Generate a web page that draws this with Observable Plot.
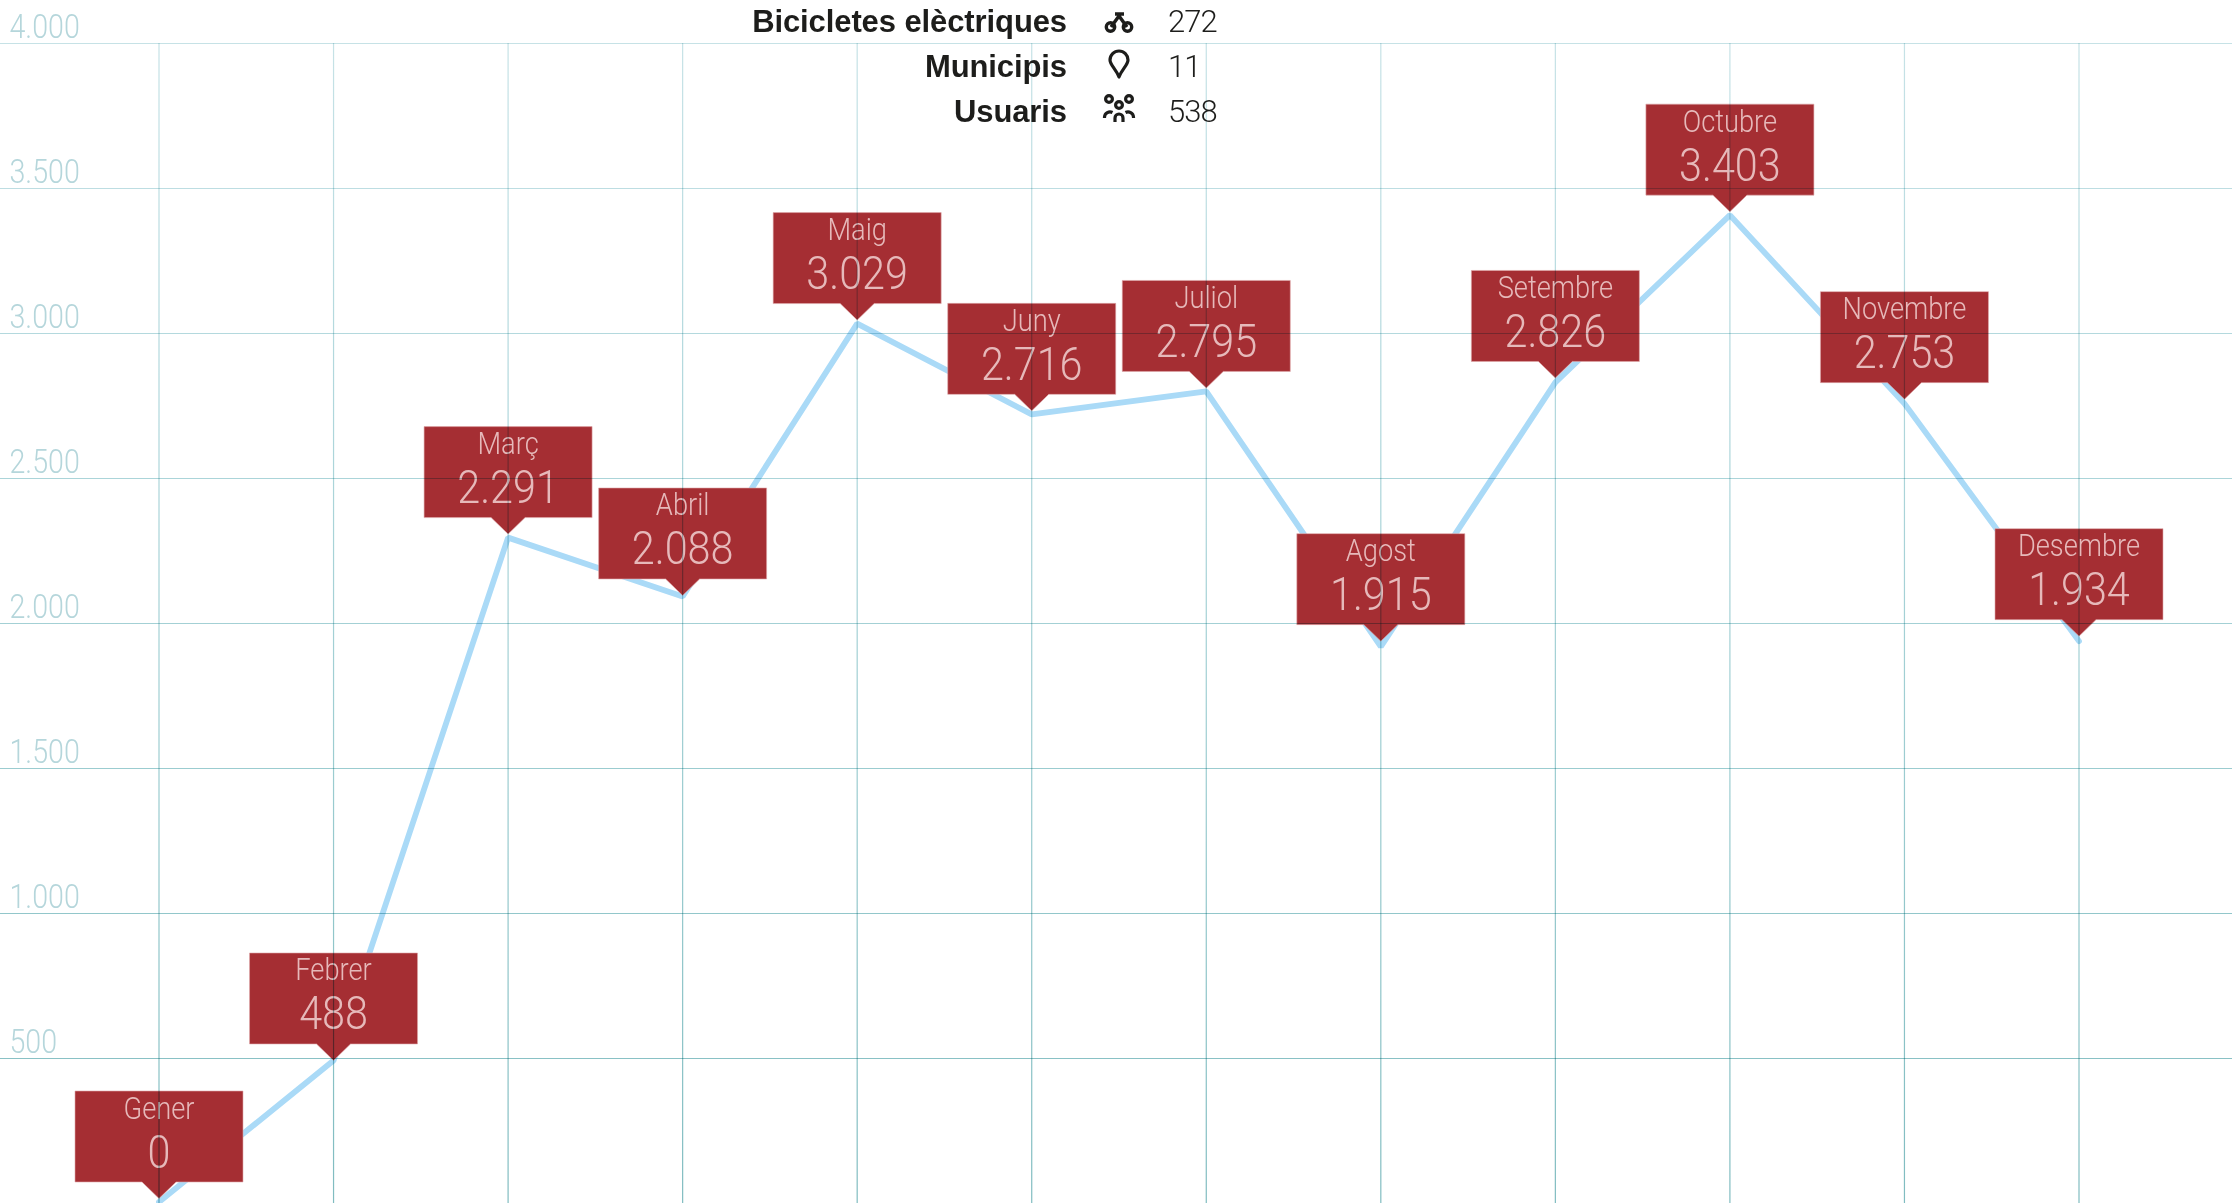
<!DOCTYPE html>
<html lang="ca">
<head>
<meta charset="utf-8">
<title>Bicicletes elèctriques</title>
<script src="https://cdn.jsdelivr.net/npm/d3@7"></script>
<script src="https://cdn.jsdelivr.net/npm/@observablehq/plot@0.6"></script>
<style>
  html, body { margin: 0; padding: 0; background: #fff; overflow: hidden; }
  #wrap { position: relative; width: 2232px; height: 1203px; }
  #wrap svg.chart { display: block; }
  .row { position: absolute; left: 0; height: 45px; width: 1240px; color: #1d1d1b; }
  .row span { position: absolute; bottom: 6px; line-height: 1; font-size: 31px; white-space: nowrap; }
  .lab { right: 173px; font-family: "Liberation Sans", sans-serif; font-weight: 700; letter-spacing: -0.1px; }
  .val { left: 1168px; font-family: Roboto, sans-serif; font-weight: 300; letter-spacing: -1px; }
  .row svg { position: absolute; left: 1100px; top: 0; overflow: visible; }
</style>
</head>
<body>
<div id="wrap"></div>
<script>
const months = ["Gener","Febrer","Març","Abril","Maig","Juny","Juliol","Agost","Setembre","Octubre","Novembre","Desembre"];
const values = [0, 488, 2291, 2088, 3029, 2716, 2795, 1915, 2826, 3403, 2753, 1934];
const yTicks = [500, 1000, 1500, 2000, 2500, 3000, 3500, 4000];
const legendLabels = ["Bicicletes elèctriques", "Municipis", "Usuaris"];
const legendValues = [272, 11, 538];

const catalan = d3.formatLocale({decimal: ",", thousands: ".", grouping: [3], currency: ["", "€"]}).format(",");
const rows = months.map((month, i) => ({month, value: values[i]}));

// Callout: rectangle with a small pointer whose tip sits just above the data point.
const calloutSymbol = (shift) => ({
  draw(c) {
    const w = 84, top = -112.5 + shift, bottom = -21.5 + shift, tip = -5 + shift, t = 17;
    c.moveTo(-w, top); c.lineTo(w, top); c.lineTo(w, bottom);
    c.lineTo(t, bottom); c.lineTo(0, tip); c.lineTo(-t, bottom);
    c.lineTo(-w, bottom); c.closePath();
  }
});
const calloutMarks = (data, shift) => [
  Plot.dot(data, {
    x: "month", y: "value", symbol: calloutSymbol(shift), fill: "#a52e33",
    stroke: "#dfa9ab", strokeWidth: 0.6
  }),
  Plot.text(data, {
    x: "month", y: "value", text: "month", lineAnchor: "bottom", dy: -85 + shift,
    fontSize: 31, fontWeight: 300, fontFamily: "Roboto, sans-serif", fill: "#e6b9ba", ariaLabel: "month"
  }),
  Plot.text(data, {
    x: "month", y: "value", text: d => catalan(d.value), lineAnchor: "bottom", dy: -36 + shift,
    fontSize: 47, fontWeight: 300, fontFamily: "Roboto, sans-serif", fill: "#e6b9ba", ariaLabel: "value"
  })
];
// A few callouts sit slightly nearer to or further from their points in the reference.
const nudges = {Febrer: 3.5, Abril: 2.5, Agost: -2, Desembre: -1.5, Novembre: -1, Setembre: -1};

const chart = Plot.plot({
  width: 2232, height: 1203,
  marginTop: 0, marginRight: 0, marginBottom: 0, marginLeft: 0,
  className: "chart",
  style: {background: "white"},
  x: {type: "point", domain: months, range: [158.5, 2078.5], padding: 0, round: false, axis: null},
  y: {domain: [0, 4000], range: [1203, 43], axis: null},
  marks: [
    Plot.text(yTicks, {
      y: d => d, text: catalan, frameAnchor: "left", textAnchor: "start", lineAnchor: "bottom",
      dx: 9, dy: -6, fontSize: 32.5, fontWeight: 300, fontFamily: "Roboto, sans-serif", fill: "#b5d6db", ariaLabel: "tick"
    }),
    Plot.line(rows, {
      x: "month", y: "value", dy: -1.5, stroke: "#aadaf7", strokeWidth: 5.8,
      strokeLinejoin: "miter", strokeLinecap: "round"
    }),
    calloutMarks(rows.filter(d => !(d.month in nudges)), 0),
    Object.entries(nudges).map(([m, s]) => calloutMarks(rows.filter(d => d.month === m), s)),
    Plot.ruleY(yTicks, {y: d => d, stroke: "url(#gridFade)", strokeWidth: 1.2, mixBlendMode: "multiply"}),
    Plot.ruleX(months, {x: d => d, y1: 0, y2: 4000, stroke: "url(#gridFade)", strokeWidth: 1.2, mixBlendMode: "multiply"})
  ]
});

// Grid fades towards the top of the chart.
const defs = d3.select(chart).insert("defs", ":first-child");
const grad = defs.append("linearGradient").attr("id", "gridFade")
  .attr("gradientUnits", "userSpaceOnUse").attr("x1", 0).attr("x2", 0).attr("y1", 43).attr("y2", 1203);
[[0, "#c6e2e6"], [0.3, "#b0d7dc"], [0.6, "#9dcdd1"], [1, "#80bcc0"]].forEach(([o, c]) =>
  grad.append("stop").attr("offset", o).attr("stop-color", c));

// Condense the light face to match the reference's narrow type.
const narrow = {tick: 0.86, month: 0.88, value: 0.95};
d3.select(chart).selectAll('g[aria-label] text').each(function () {
  const k = narrow[this.parentNode.getAttribute("aria-label")] ?? 0.88;
  this.setAttribute("transform", (this.getAttribute("transform") || "") + ` scale(${k},1)`);
});

const wrap = document.getElementById("wrap");
wrap.appendChild(chart);

const icons = [
  `<g fill="none" stroke="#1d1d1b" stroke-width="3.4"><circle cx="10.5" cy="29" r="4.2"/><circle cx="27.500" cy="29" r="4.200"/><path d="M11 29l8-11 8 11M15 16h9"/></g>`,
  `<path d="M19 34C16 26 10 22 10 17a9 9 0 0 1 18 0c0 5-6 9-9 17z" fill="none" stroke="#1d1d1b" stroke-width="3.200" stroke-linejoin="round"/>`,
  `<g fill="none" stroke="#1d1d1b" stroke-width="3.200"><circle cx="9" cy="11" r="3.400"/><circle cx="29" cy="11" r="3.400"/><circle cx="19" cy="17" r="3.400"/><path d="M4.500 30v-1a5.500 5.500 0 0 1 8-4.500M33.500 30v-1a5.500 5.500 0 0 0-8-4.500M15 34v-4a4 4 0 0 1 8 0v4"/></g>`
];
legendLabels.forEach((label, i) => {
  const r = document.createElement("div");
  r.className = "row";
  r.style.top = (i * 45 - 2) + "px";
  r.innerHTML = `<span class="lab"></span><svg width="38" height="40">${icons[i]}</svg><span class="val"></span>`;
  r.querySelector(".lab").textContent = label;
  r.querySelector(".val").textContent = legendValues[i];
  wrap.appendChild(r);
});
</script>
</body>
</html>
